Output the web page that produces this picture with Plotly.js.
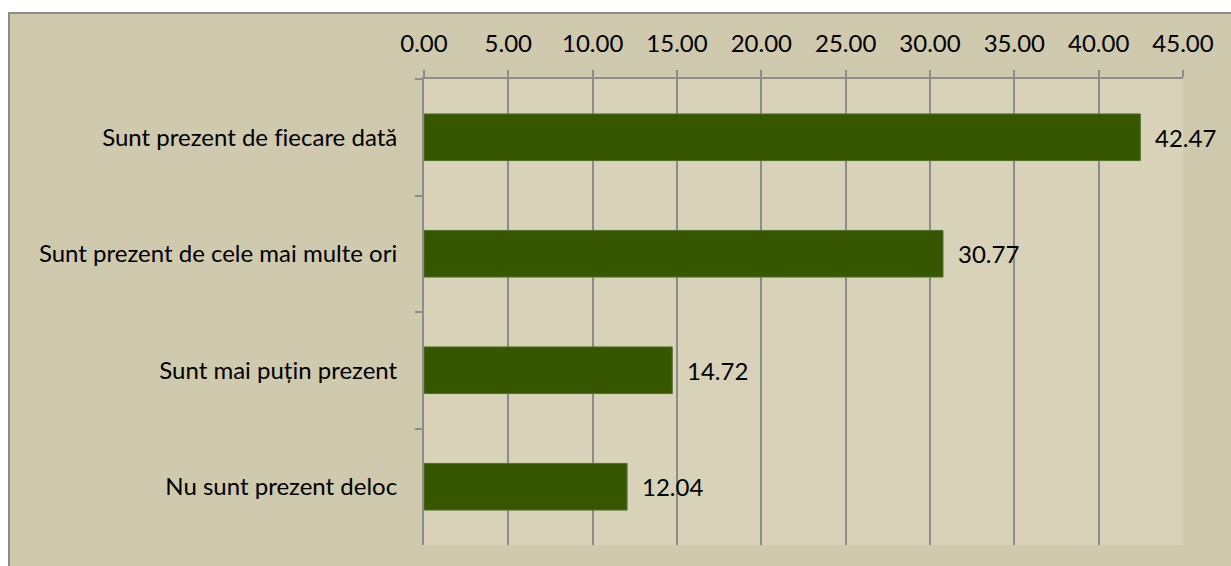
<!DOCTYPE html>
<html>
<head>
<meta charset="utf-8">
<script src="https://cdn.plot.ly/plotly-3.0.1.min.js"></script>
<style>
  html, body { margin: 0; padding: 0; background: #ffffff; overflow: hidden; }
  #frame {
    position: absolute; left: 8px; top: 12px;
    width: 1223px; height: 554px;
    border-top: 2px solid #8c8c8c; border-left: 2px solid #8c8c8c;
    background: #cfc9ad;
  }
  #chart { width: 1221px; height: 552px; }
  #chart text { font-variant-ligatures: none !important; font-feature-settings: "liga" 0, "clig" 0 !important; }
</style>
</head>
<body>
<div id="frame"><div id="chart"></div></div>
<script>
// answers (top to bottom as drawn)
const categories = [
    'Sunt prezent de fiecare dată',
    'Sunt prezent de cele mai multe ori',
    'Sunt mai puțin prezent',
    'Nu sunt prezent deloc'
];
const values = [42.47, 30.77, 14.72, 12.04];
const xTicks = [0, 5, 10, 15, 20, 25, 30, 35, 40, 45];

const gridGray = '#8c8c8c';
const font = { family: 'Lato, Open Sans, sans-serif', color: '#000000', size: 24 };

const trace = {
    type: 'bar', orientation: 'h',
    y: categories, x: values,
    width: 0.4,
    marker: { color: '#375600', line: { color: '#50702a', width: 1 } },
    hoverinfo: 'x+y'
};

// value labels sit a little to the right of each bar end
const labels = values.map((v, i) => ({
    x: v, y: categories[i], xref: 'x', yref: 'y',
    text: v.toFixed(2), showarrow: false,
    xanchor: 'left', xshift: 13, font: font
}));

const layout = {
    width: 1221, height: 552,
    paper_bgcolor: '#cfc9ad',
    plot_bgcolor: '#d7d2b8',
    font: font,
    showlegend: false,
    margin: { l: 414, r: 48, t: 65, b: 21 },
    annotations: labels,
    xaxis: {
        side: 'top', range: [0, 45],
        tickvals: xTicks, ticktext: xTicks.map(v => v.toFixed(2)),
        showgrid: true, gridcolor: gridGray, gridwidth: 2,
        zeroline: false,
        showline: true, linecolor: gridGray, linewidth: 2,
        ticks: 'outside', ticklen: 7, tickwidth: 2, tickcolor: gridGray,
        ticklabelstandoff: 8,
        tickfont: font, fixedrange: true
    },
    yaxis: {
        type: 'category', categoryorder: 'array', categoryarray: categories,
        autorange: 'reversed',
        tickson: 'boundaries',
        showgrid: false, zeroline: false,
        showline: true, linecolor: gridGray, linewidth: 2,
        ticks: 'outside', ticklen: 7, tickwidth: 2, tickcolor: gridGray,
        ticklabelstandoff: 20,
        tickfont: font, fixedrange: true
    }
};

Plotly.newPlot('chart', [trace], layout, { displayModeBar: false, responsive: false });
</script>
</body>
</html>
